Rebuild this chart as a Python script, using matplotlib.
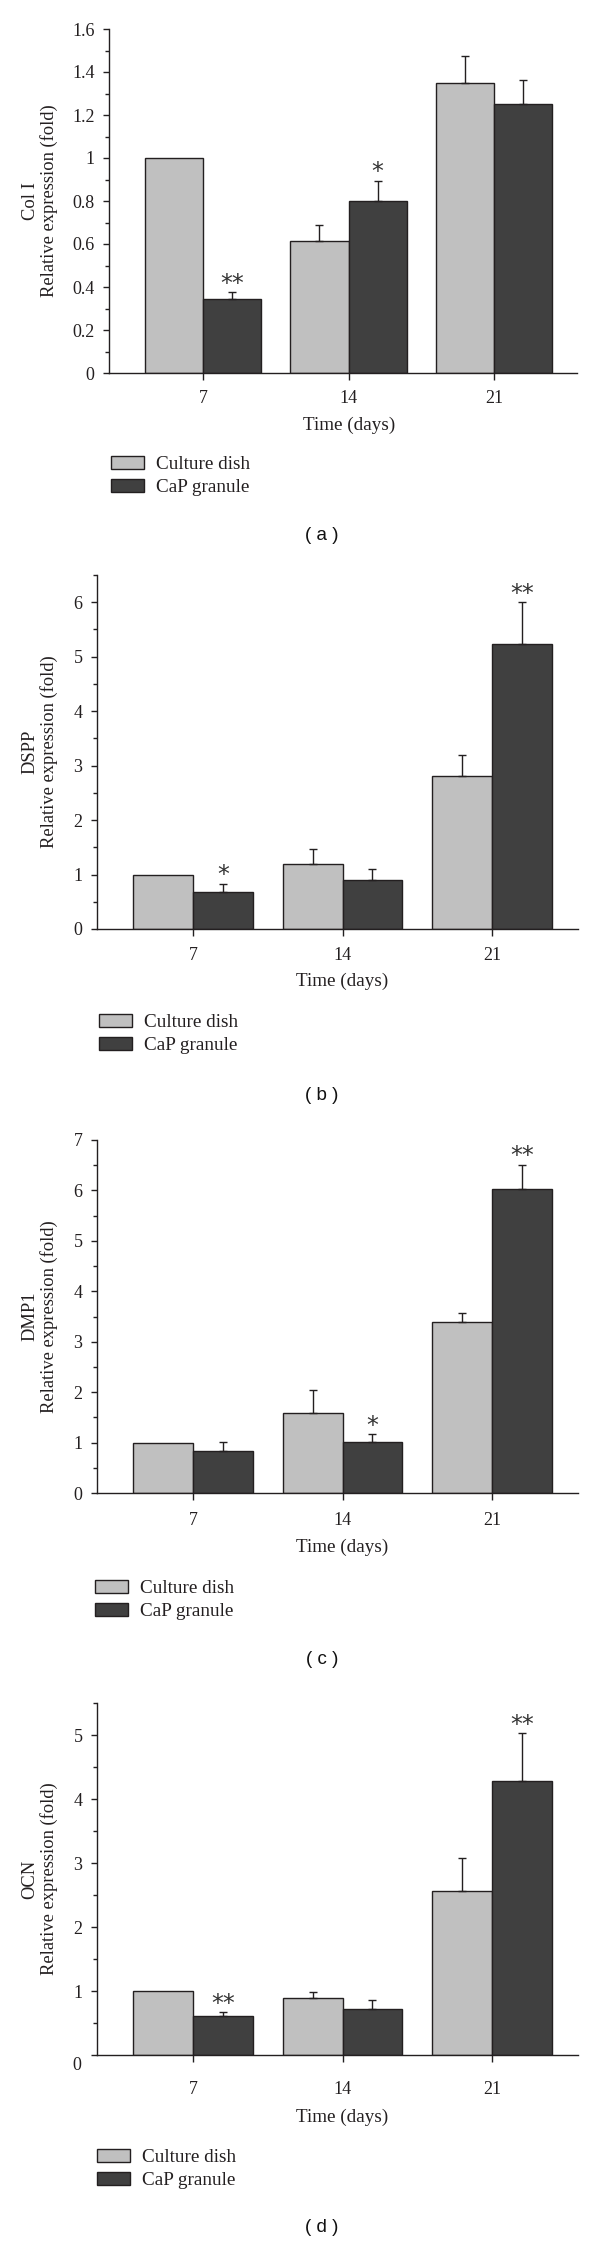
import numpy as np
import matplotlib
matplotlib.use("Agg")
import matplotlib.pyplot as plt
from matplotlib.patches import Patch
from matplotlib.ticker import MultipleLocator

plt.rcParams['font.family'] = ['Liberation Serif', 'DejaVu Serif']

# data
days = ['7', '14', '21']
groups = ['Culture dish', 'CaP granule']

col1_dish = [1.0, 0.614, 1.347]
col1_dish_err = [0.0, 0.073, 0.129]
col1_cap = [0.343, 0.801, 1.252]
col1_cap_err = [0.033, 0.093, 0.110]
col1_sig = ['**', '*', '']

dspp_dish = [1.0, 1.20, 2.813]
dspp_dish_err = [0.0, 0.262, 0.374]
dspp_cap = [0.675, 0.898, 5.226]
dspp_cap_err = [0.158, 0.210, 0.774]
dspp_sig = ['*', '', '**']

dmp1_dish = [1.0, 1.595, 3.395]
dmp1_dish_err = [0.0, 0.445, 0.175]
dmp1_cap = [0.836, 1.02, 6.03]
dmp1_cap_err = [0.170, 0.150, 0.480]
dmp1_sig = ['', '*', '**']

ocn_dish = [1.0, 0.885, 2.56]
ocn_dish_err = [0.0, 0.100, 0.516]
ocn_cap = [0.605, 0.717, 4.286]
ocn_cap_err = [0.067, 0.140, 0.739]
ocn_sig = ['**', '', '**']

genes = ['Col I', 'DSPP', 'DMP1', 'OCN']
panel_tags = ['( a )', '( b )', '( c )', '( d )']

LIGHT = '#c0c0c0'
DARK = '#404040'
INK = '#231f20'

W, H = 600, 2245
fig = plt.figure(figsize=(W / 100, H / 100), dpi=100)

# pixel boxes: left, top, right, bottom
boxes = [(109, 29, 577, 373), (97, 575, 578, 929),
         (97, 1140, 578, 1493), (97, 1703, 578, 2055)]
xlims = [(-0.646, 2.57), (-0.642, 2.575), (-0.642, 2.575), (-0.642, 2.575)]
ylims = [1.6, 6.5, 7.0, 5.5]
major = [0.2, 1, 1, 1]
minor = [0.1, 0.5, 0.5, 0.5]
xpads = [7.0, 7.7, 8.4, 13.5]
xlabel_y = [425, 981, 1547, 2117]
xlabel_x = [349, 342, 342, 342]
legend_y = [476, 1034, 1600, 2169]
legend_x = [111, 99, 95, 97]
tag_y = [536, 1096, 1660, 2228]

series = [
    (col1_dish, col1_dish_err, col1_cap, col1_cap_err, col1_sig),
    (dspp_dish, dspp_dish_err, dspp_cap, dspp_cap_err, dspp_sig),
    (dmp1_dish, dmp1_dish_err, dmp1_cap, dmp1_cap_err, dmp1_sig),
    (ocn_dish, ocn_dish_err, ocn_cap, ocn_cap_err, ocn_sig),
]

x = np.arange(len(days))
bw = 0.4

for i, (dish, dish_err, cap, cap_err, sig) in enumerate(series):
    l, t, r, b = boxes[i]
    ax = fig.add_axes([l / W, 1 - b / H, (r - l) / W, (b - t) / H])

    ax.bar(x - bw / 2, dish, bw, color=LIGHT, edgecolor=INK, linewidth=1.0, zorder=2)
    ax.bar(x + bw / 2, cap, bw, color=DARK, edgecolor=INK, linewidth=1.0, zorder=2)

    for xs, vals, errs in [(x - bw / 2, dish, dish_err), (x + bw / 2, cap, cap_err)]:
        vals = np.array(vals)
        errs = np.array(errs)
        m = errs > 0
        ax.errorbar(xs[m], vals[m], yerr=[np.zeros(m.sum()), errs[m]], fmt='none',
                    ecolor=INK, elinewidth=1.0, capsize=3, capthick=1.0, zorder=3)

    # significance marks above the CaP bars
    for j, s in enumerate(sig):
        if s:
            ax.annotate(s, xy=(x[j] + bw / 2, cap[j] + cap_err[j]), xytext=(0, 1.0),
                        textcoords='offset points', ha='center', va='baseline',
                        fontsize=17, family='DejaVu Sans', color='#333333')

    ax.set_xlim(*xlims[i])
    ax.set_ylim(0, ylims[i])
    ax.set_xticks(x)
    ax.set_xticklabels(days)
    ax.yaxis.set_minor_locator(MultipleLocator(minor[i]))
    yt = np.arange(0, ylims[i] + 1e-9, major[i])
    ax.set_yticks(yt)
    if i == 0:
        labels = ['0' if v == 0 else ('1' if abs(v - 1) < 1e-9 else '%.1f' % v) for v in yt]
    else:
        labels = ['%d' % round(v) for v in yt]
    if i == 3:
        # the zero label sits a little below the axis in the original
        labels[0] = ''
        ax.annotate('0', xy=(0, 0), xycoords=('axes fraction', 'data'),
                    xytext=(-11, -7.5), textcoords='offset points',
                    ha='right', va='center', fontsize=13, color=INK)
    ax.set_yticklabels(labels)

    for sp in ['top', 'right']:
        ax.spines[sp].set_visible(False)
    for sp in ['left', 'bottom']:
        ax.spines[sp].set_linewidth(1.0)
        ax.spines[sp].set_color(INK)

    ax.tick_params(axis='y', which='major', direction='out', length=4.5, width=1.0,
                   pad=6.0, labelsize=13, colors=INK)
    ax.tick_params(axis='y', which='minor', direction='out', length=3, width=1.0, colors=INK)
    ax.tick_params(axis='x', which='major', direction='out', length=5, width=1.0,
                   pad=xpads[i], labelsize=13, colors=INK)

    fig.text(xlabel_x[i] / W, 1 - xlabel_y[i] / H, 'Time (days)', ha='center', va='center',
             fontsize=13.8, color=INK)
    fig.text(40 / W, 1 - (t + b) / 2 / H, genes[i] + '\nRelative expression (fold)',
             rotation=90, ha='center', va='center', multialignment='center',
             fontsize=13.3, color=INK, linespacing=1.12)

    handles = [Patch(facecolor=LIGHT, edgecolor=INK, linewidth=1.0),
               Patch(facecolor=DARK, edgecolor=INK, linewidth=1.0)]
    fig.legend(handles, groups, loc='center left',
               bbox_to_anchor=(legend_x[i] / W, 1 - legend_y[i] / H),
               frameon=False, borderpad=0, borderaxespad=0, handlelength=1.7,
               handleheight=0.7, handletextpad=0.65, labelspacing=0.3,
               fontsize=13.8, labelcolor=INK)

    fig.text(322 / W, 1 - tag_y[i] / H, panel_tags[i], ha='center', va='center',
             fontsize=13.5, family='Liberation Sans', color='#111111')

fig.savefig('out.png', dpi=100)
